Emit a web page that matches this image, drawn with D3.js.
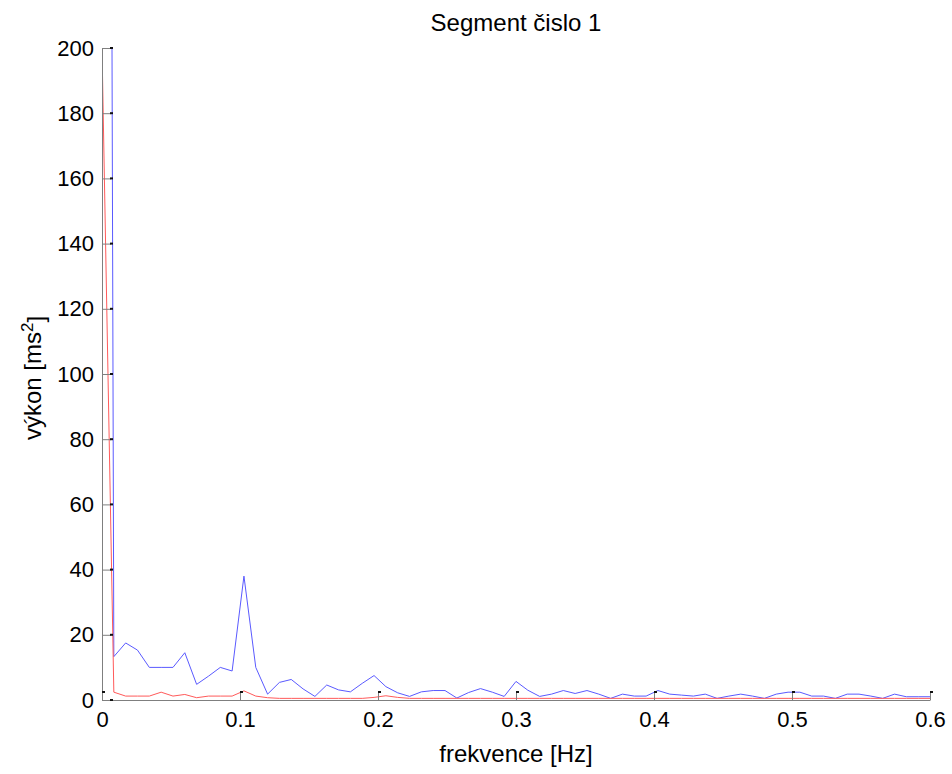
<!DOCTYPE html>
<html>
<head>
<meta charset="utf-8">
<script src="https://cdn.jsdelivr.net/npm/d3@7"></script>
<style>
  body { margin: 0; background: #fff; }
  text { font-family: "Liberation Sans", Arial, sans-serif; fill: #000; }
</style>
</head>
<body>
<svg id="chart"></svg>
<script>
const W = 952, H = 774;
const margin = { left: 102, right: 22, top: 48, bottom: 74 };

// frequency step of the spectrum (71 bins from 0 to 0.6 Hz)
const df = 0.6 / 70;

// blue spectrum (first bin far above the axis and clipped)
const bluePower = [1230, 13.3, 17.5, 15.3, 10.0, 10.0, 10.0, 14.5, 4.8, 7.3,
  10.0, 8.9, 38.0, 10.0, 1.8, 5.4, 6.3, 3.4, 1.1, 4.6,
  3.1, 2.5, 5.1, 7.5, 4.1, 2.2, 1.1, 2.5, 2.9, 2.9,
  0.6, 2.3, 3.5, 2.4, 1.1, 5.7, 3.0, 1.1, 1.8, 2.9,
  2.0, 2.9, 1.8, 0.5, 1.8, 1.2, 1.2, 2.9, 1.8, 1.5,
  1.2, 1.8, 0.5, 1.2, 1.8, 1.2, 0.5, 1.8, 2.4, 2.4,
  1.2, 1.2, 0.5, 1.8, 1.8, 1.2, 0.5, 1.8, 1.0, 1.0, 1.0];

// red spectrum
const redPower = [200, 2.4, 1.2, 1.2, 1.2, 2.4, 1.2, 1.7, 0.7, 1.2,
  1.2, 1.2, 2.8, 1.2, 0.7, 0.5, 0.5, 0.5, 0.5, 0.5,
  0.5, 0.5, 0.5, 0.8, 1.3, 0.8, 0.5, 0.5, 0.5, 0.5,
  0.5, 0.5, 0.5, 0.5, 0.5, 0.5, 0.5, 0.5, 0.5, 0.5,
  0.5, 0.5, 0.5, 0.5, 0.5, 0.5, 0.5, 0.5, 0.5, 0.5,
  0.5, 0.5, 0.5, 0.5, 0.5, 0.5, 0.5, 0.5, 0.5, 0.5,
  0.5, 0.5, 0.5, 0.5, 0.5, 0.5, 0.5, 0.5, 0.5, 0.5, 0.5];

const xTicks = [0, 0.1, 0.2, 0.3, 0.4, 0.5, 0.6];
const yTicks = [0, 20, 40, 60, 80, 100, 120, 140, 160, 180, 200];

const titleText = "Segment čislo 1";
const xLabel = "frekvence [Hz]";

let svg = d3.select("svg#chart").attr("width", W).attr("height", H);

let x = d3.scaleLinear().domain([0, 0.6]).range([margin.left, W - margin.right]);
let y = d3.scaleLinear().domain([0, 200]).range([H - margin.bottom, margin.top]);

svg.append("clipPath").attr("id", "plotclip")
  .append("rect")
  .attr("x", x(0)).attr("y", y(200))
  .attr("width", x(0.6) - x(0)).attr("height", y(0) - y(200));

let line = d3.line().x((d, i) => x(i * df)).y(d => y(d));

let plot = svg.append("g").attr("clip-path", "url(#plotclip)");

plot.append("path").datum(bluePower)
  .attr("d", line)
  .attr("fill", "none")
  .attr("stroke", "#5a5aff")
  .attr("stroke-width", 1);

plot.append("path").datum(redPower)
  .attr("d", line)
  .attr("fill", "none")
  .attr("stroke", "#ff5a5a")
  .attr("stroke-width", 1);

// axes, ticks pointing inwards
let xAxis = svg.append("g")
  .attr("transform", `translate(0,${y(0)})`)
  .call(d3.axisBottom(x).tickValues(xTicks).tickSize(-8).tickSizeOuter(0).tickPadding(11)
    .tickFormat(d3.format("")));

let yAxis = svg.append("g")
  .attr("transform", `translate(${x(0)},0)`)
  .call(d3.axisLeft(y).tickValues(yTicks).tickSize(-9).tickSizeOuter(0).tickPadding(8));

[xAxis, yAxis].forEach(a => {
  a.select(".domain").attr("stroke", "#7f7f7f");
  a.selectAll(".tick line").attr("stroke", "#7f7f7f");
  a.selectAll(".tick text").style("font-size", "22px").attr("fill", "#000");
});

// small dark marks at the inner tick ends
svg.selectAll(".xmark").data(xTicks).enter().append("rect")
  .attr("x", d => x(d))
  .attr("y", y(0) - 9)
  .attr("width", 3).attr("height", 2)
  .attr("fill", "#111");

svg.selectAll(".ymark").data(yTicks).enter().append("rect")
  .attr("x", x(0) + 8)
  .attr("y", d => y(d) - 1)
  .attr("width", 3).attr("height", 2)
  .attr("fill", "#111");

svg.append("text")
  .attr("x", (x(0) + x(0.6)) / 2).attr("y", 31)
  .attr("text-anchor", "middle")
  .style("font-size", "24px")
  .text(titleText);

svg.append("text")
  .attr("x", (x(0) + x(0.6)) / 2).attr("y", 762)
  .attr("text-anchor", "middle")
  .style("font-size", "24px")
  .text(xLabel);

let yl = svg.append("text")
  .attr("transform", `translate(41,${(y(0) + y(200)) / 2 + 4}) rotate(-90)`)
  .attr("text-anchor", "middle")
  .style("font-size", "24px");
yl.append("tspan").text("výkon [ms");
yl.append("tspan").attr("dy", "-0.45em").style("font-size", "17px").text("2");
yl.append("tspan").attr("dy", "0.45em").text("]");
</script>
</body>
</html>
